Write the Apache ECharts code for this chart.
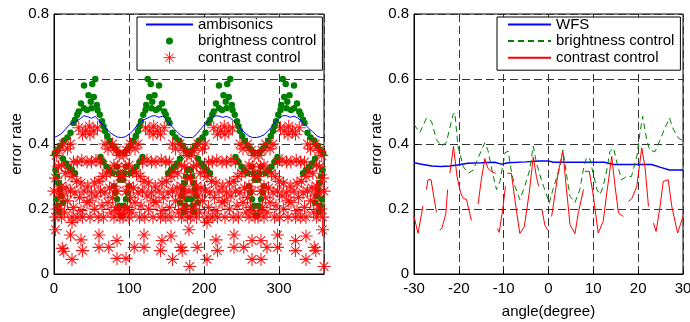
<!DOCTYPE html>
<html>
<head>
<meta charset="utf-8">
<script src="https://cdn.jsdelivr.net/npm/echarts@6/dist/echarts.min.js"></script>
<style>
  html, body { margin: 0; padding: 0; background: #fff; }
  #chart { width: 690px; height: 322px; }
</style>
</head>
<body>
<div id="chart"></div>
<script>
// left panel: ambisonics vs angle 0..360
const ambAngle = [0,5,10,15,20,25,30,35,40,45,50,55,60,65,70,75,80,85,
  90,95,100,105,110,115,120,125,130,135,140,145,150,155,160,165,170,175,
  180,185,190,195,200,205,210,215,220,225,230,235,240,245,250,255,260,265,
  270,275,280,285,290,295,300,305,310,315,320,325,330,335,340,345,350,355,360];
const ambisonics = [0.42,0.425,0.432,0.445,0.458,0.466,0.47,0.478,0.487,0.484,0.479,0.485,0.472,0.458,0.446,0.435,0.427,0.421,
  0.42,0.422,0.43,0.44,0.455,0.468,0.475,0.48,0.486,0.487,0.482,0.486,0.475,0.46,0.447,0.435,0.425,0.42,
  0.42,0.42,0.43,0.444,0.458,0.468,0.48,0.487,0.486,0.482,0.485,0.48,0.47,0.46,0.445,0.433,0.424,0.42,
  0.42,0.423,0.428,0.44,0.452,0.468,0.478,0.487,0.487,0.482,0.486,0.48,0.47,0.46,0.447,0.438,0.426,0.42,0.42];

const brightnessPoints = [
  [40,0.58],[51,0.585],[55,0.6],[46,0.55],[53,0.545],[49,0.53],[36,0.525],[57,0.52],[33,0.5],[40,0.51],[44,0.505],[50,0.51],[58,0.505],[31,0.49],[61,0.49],[28,0.475],[26,0.465],[64,0.47],[66,0.455],
  [22,0.435],[18,0.42],[13,0.41],[8,0.395],[4,0.38],[1,0.37],[68,0.44],[71,0.425],[74,0.41],[78,0.395],[82,0.385],[86,0.375],
  [12,0.355],[16,0.34],[20,0.33],[24,0.32],[28,0.31],[62,0.36],[66,0.345],[70,0.33],[74,0.32],[78,0.31],
  [2,0.32],[4,0.3],[6,0.28],[8,0.26],[10,0.24],[12,0.22],[84,0.33],[86,0.31],[88,0.29],[80,0.27],[82,0.25],[84,0.23],[87,0.21],[89,0.18],[3,0.23],[5,0.21],[7,0.19],

  [140,0.58],[129,0.585],[125,0.6],[134,0.55],[127,0.545],[131,0.53],[144,0.525],[123,0.52],[147,0.5],[140,0.51],[136,0.505],[130,0.51],[122,0.505],[149,0.49],[119,0.49],[152,0.475],[154,0.465],[116,0.47],[114,0.455],
  [158,0.435],[162,0.42],[167,0.41],[172,0.395],[176,0.38],[179,0.37],[112,0.44],[109,0.425],[106,0.41],[102,0.395],[98,0.385],[94,0.375],
  [168,0.355],[164,0.34],[160,0.33],[156,0.32],[152,0.31],[118,0.36],[114,0.345],[110,0.33],[106,0.32],[102,0.31],
  [178,0.32],[176,0.3],[174,0.28],[172,0.26],[170,0.24],[168,0.22],[96,0.33],[94,0.31],[92,0.29],[100,0.27],[98,0.25],[96,0.23],[93,0.21],[91,0.18],[177,0.23],[175,0.21],[173,0.19],

  [220,0.58],[231,0.585],[235,0.6],[226,0.55],[233,0.545],[229,0.53],[216,0.525],[237,0.52],[213,0.5],[220,0.51],[224,0.505],[230,0.51],[238,0.505],[211,0.49],[241,0.49],[208,0.475],[206,0.465],[244,0.47],[246,0.455],
  [202,0.435],[198,0.42],[193,0.41],[188,0.395],[184,0.38],[181,0.37],[248,0.44],[251,0.425],[254,0.41],[258,0.395],[262,0.385],[266,0.375],
  [192,0.355],[196,0.34],[200,0.33],[204,0.32],[208,0.31],[242,0.36],[246,0.345],[250,0.33],[254,0.32],[258,0.31],
  [182,0.32],[184,0.3],[186,0.28],[188,0.26],[190,0.24],[192,0.22],[264,0.33],[266,0.31],[268,0.29],[260,0.27],[262,0.25],[264,0.23],[267,0.21],[269,0.18],[183,0.23],[185,0.21],[187,0.19],

  [320,0.58],[309,0.585],[305,0.6],[314,0.55],[307,0.545],[311,0.53],[324,0.525],[303,0.52],[327,0.5],[320,0.51],[316,0.505],[310,0.51],[302,0.505],[329,0.49],[299,0.49],[332,0.475],[334,0.465],[296,0.47],[294,0.455],
  [338,0.435],[342,0.42],[347,0.41],[352,0.395],[356,0.38],[359,0.37],[292,0.44],[289,0.425],[286,0.41],[282,0.395],[278,0.385],[274,0.375],
  [348,0.355],[344,0.34],[340,0.33],[336,0.32],[332,0.31],[298,0.36],[294,0.345],[290,0.33],[286,0.32],[282,0.31],
  [358,0.32],[356,0.3],[354,0.28],[352,0.26],[350,0.24],[348,0.22],[276,0.33],[274,0.31],[272,0.29],[280,0.27],[278,0.25],[276,0.23],[273,0.21],[271,0.18],[357,0.23],[355,0.21],[353,0.19]
];

const contrastPoints = [
  [33,0.45],[38,0.43],[42,0.44],[47,0.455],[48,0.43],[53,0.44],[58,0.45],
  [7,0.38],[12,0.4],[18,0.385],[22,0.4],[68,0.4],[72,0.385],[78,0.4],[83,0.38],[3,0.365],[87,0.365],
  [26,0.345],[31,0.345],[37,0.35],[44,0.345],[50,0.345],[56,0.35],[62,0.345],[6,0.33],[10,0.335],[80,0.335],[85,0.33],
  [15,0.31],[20,0.315],[70,0.31],[75,0.315],[2,0.295],[24,0.3],[65,0.3],[88,0.3],
  [30,0.285],[36,0.28],[54,0.28],[60,0.285],[10,0.27],[16,0.265],[45,0.27],[74,0.265],[80,0.27],
  [0,0.255],[6,0.25],[22,0.255],[28,0.25],[40,0.255],[50,0.25],[62,0.255],[68,0.25],[84,0.255],
  [12,0.24],[34,0.235],[56,0.24],[78,0.235],[18,0.225],[44,0.22],[47,0.225],[72,0.22],
  [8,0.21],[26,0.205],[64,0.21],[82,0.205],[4,0.2],[36,0.195],[54,0.2],[86,0.195],[14,0.19],[76,0.19],
  [2,0.175],[10,0.175],[24,0.175],[31,0.175],[38,0.175],[48,0.175],[59,0.175],[66,0.175],[80,0.175],[88,0.175],

  [147,0.45],[142,0.43],[138,0.44],[133,0.455],[132,0.43],[127,0.44],[122,0.45],
  [173,0.38],[168,0.4],[162,0.385],[158,0.4],[112,0.4],[108,0.385],[102,0.4],[97,0.38],[177,0.365],[93,0.365],
  [154,0.345],[149,0.345],[143,0.35],[136,0.345],[130,0.345],[124,0.35],[118,0.345],[174,0.33],[170,0.335],[100,0.335],[95,0.33],
  [165,0.31],[160,0.315],[110,0.31],[105,0.315],[178,0.295],[156,0.3],[115,0.3],[92,0.3],
  [150,0.285],[144,0.28],[126,0.28],[120,0.285],[170,0.27],[164,0.265],[135,0.27],[106,0.265],[100,0.27],
  [180,0.255],[174,0.25],[158,0.255],[152,0.25],[140,0.255],[130,0.25],[118,0.255],[112,0.25],[96,0.255],
  [168,0.24],[146,0.235],[124,0.24],[102,0.235],[162,0.225],[136,0.22],[133,0.225],[108,0.22],
  [172,0.21],[154,0.205],[116,0.21],[98,0.205],[176,0.2],[144,0.195],[126,0.2],[94,0.195],[166,0.19],[104,0.19],
  [178,0.175],[170,0.175],[156,0.175],[149,0.175],[142,0.175],[132,0.175],[121,0.175],[114,0.175],[100,0.175],[92,0.175],

  [213,0.45],[218,0.43],[222,0.44],[227,0.455],[228,0.43],[233,0.44],[238,0.45],
  [187,0.38],[192,0.4],[198,0.385],[202,0.4],[248,0.4],[252,0.385],[258,0.4],[263,0.38],[183,0.365],[267,0.365],
  [206,0.345],[211,0.345],[217,0.35],[224,0.345],[230,0.345],[236,0.35],[242,0.345],[186,0.33],[190,0.335],[260,0.335],[265,0.33],
  [195,0.31],[200,0.315],[250,0.31],[255,0.315],[182,0.295],[204,0.3],[245,0.3],[268,0.3],
  [210,0.285],[216,0.28],[234,0.28],[240,0.285],[190,0.27],[196,0.265],[225,0.27],[254,0.265],[260,0.27],
  [186,0.25],[202,0.255],[208,0.25],[220,0.255],[230,0.25],[242,0.255],[248,0.25],[264,0.255],
  [192,0.24],[214,0.235],[236,0.24],[258,0.235],[198,0.225],[224,0.22],[227,0.225],[252,0.22],
  [188,0.21],[206,0.205],[244,0.21],[262,0.205],[184,0.2],[216,0.195],[234,0.2],[266,0.195],[194,0.19],[256,0.19],
  [182,0.175],[190,0.175],[204,0.175],[211,0.175],[218,0.175],[228,0.175],[239,0.175],[246,0.175],[260,0.175],[268,0.175],

  [327,0.45],[322,0.43],[318,0.44],[313,0.455],[312,0.43],[307,0.44],[302,0.45],
  [353,0.38],[348,0.4],[342,0.385],[338,0.4],[292,0.4],[288,0.385],[282,0.4],[277,0.38],[357,0.365],[273,0.365],
  [334,0.345],[329,0.345],[323,0.35],[316,0.345],[310,0.345],[304,0.35],[298,0.345],[354,0.33],[350,0.335],[280,0.335],[275,0.33],
  [345,0.31],[340,0.315],[290,0.31],[285,0.315],[358,0.295],[336,0.3],[295,0.3],[272,0.3],
  [330,0.285],[324,0.28],[306,0.28],[300,0.285],[350,0.27],[344,0.265],[315,0.27],[286,0.265],[280,0.27],
  [360,0.255],[354,0.25],[338,0.255],[332,0.25],[320,0.255],[310,0.25],[298,0.255],[292,0.25],[276,0.255],
  [348,0.24],[326,0.235],[304,0.24],[282,0.235],[342,0.225],[316,0.22],[313,0.225],[288,0.22],
  [352,0.21],[334,0.205],[296,0.21],[278,0.205],[356,0.2],[324,0.195],[306,0.2],[274,0.195],[346,0.19],[284,0.19],
  [358,0.175],[350,0.175],[336,0.175],[329,0.175],[322,0.175],[312,0.175],[301,0.175],[294,0.175],[280,0.175],[272,0.175],

  // sparse low values
  [2,0.136],[11,0.079],[13,0.07],[24,0.159],[22,0.12],[24,0.045],[36,0.105],[38,0.072],[60,0.12],[60,0.082],[73,0.082],[84,0.103],[84,0.048],
  [96,0.048],[107,0.082],[120,0.12],[120,0.082],[144,0.103],[142,0.072],[158,0.045],[156,0.117],[169,0.082],[171,0.072],[180,0.136],[181,0.023],
  [191,0.082],[204,0.159],[204,0.045],[216,0.105],[218,0.072],[240,0.12],[240,0.082],[253,0.082],[264,0.103],[264,0.045],
  [276,0.045],[276,0.103],[284,0.082],[298,0.12],[298,0.082],[322,0.103],[322,0.072],[336,0.045],[336,0.117],[347,0.082],[349,0.072],[358,0.136],[360,0.023]
];

// right panel: -30..30
const wfsCurve = [[-30,0.342],[-28,0.337],[-26,0.332],[-24,0.331],[-22,0.332],[-20,0.336],[-18,0.341],[-15,0.342],[-12,0.344],[-10.5,0.338],
  [-9,0.342],[-5,0.345],[-2,0.348],[0,0.348],[1,0.344],[5,0.344],[10,0.344],[12.5,0.344],[14.5,0.337],[18,0.337],[23,0.337],[25,0.328],[27,0.32],[30,0.32]];

const brightnessCurve = [[-30,0.46],[-28.7,0.435],[-27.2,0.48],[-26.1,0.47],[-25,0.414],[-23.9,0.394],[-22.8,0.404],[-21.3,0.49],[-20.9,0.497],
  [-20.2,0.394],[-19,0.33],[-17.9,0.31],[-16.8,0.32],[-15.7,0.357],[-14.2,0.404],[-13.5,0.38],[-12.3,0.3],[-11.6,0.26],[-10.8,0.286],
  [-9.7,0.373],[-9,0.378],[-8.2,0.31],[-7.5,0.27],[-6.4,0.229],[-5.3,0.27],[-4.2,0.32],[-3.4,0.394],[-2.7,0.342],[-1.6,0.29],[-0.6,0.25],
  [0.15,0.218],[1,0.26],[2.6,0.331],[3.2,0.382],[4.2,0.29],[4.8,0.239],[5.9,0.22],[7,0.26],[7.75,0.32],[8.5,0.36],[9.2,0.355],
  [10.8,0.26],[11.5,0.244],[12.2,0.27],[13,0.32],[13.7,0.377],[14.5,0.388],[15.3,0.34],[16.3,0.29],[17.4,0.3],[18.5,0.3],[19.7,0.362],
  [20.4,0.434],[21,0.485],[21.9,0.413],[22.6,0.38],[23.8,0.377],[24.9,0.413],[26,0.45],[27,0.48],[27.8,0.446],[29,0.418],[30,0.41]];

// '-' = gap in the line
const contrastCurve = [[-30,0.177],[-29.1,0.125],[-28,0.21],[-27.6,'-'],
  [-27.2,0.26],[-26.9,0.29],[-26.2,0.29],[-25,0.19],[-24.6,'-'],
  [-24.3,0.135],[-23.8,0.14],[-22.9,0.185],[-22.5,0.26],[-22.2,'-'],
  [-22,0.31],[-21.2,0.393],[-20.4,0.3],[-19.6,0.25],[-19,0.232],[-18.3,0.23],[-17.2,0.165],[-16.5,'-'],
  [-15.7,0.215],[-15,0.29],[-14.2,0.355],[-13.5,0.325],[-12.7,0.315],[-11.8,0.31],[-11.6,'-'],
  [-11.4,0.14],[-11,0.128],[-10.2,0.2],[-9.6,0.27],[-9.4,'-'],
  [-9.2,0.31],[-8.3,0.31],[-7.2,0.2],[-6.4,0.125],[-5.4,0.145],[-4.3,0.25],[-3.4,0.36],[-2.7,0.3],[-2.2,0.27],[-1.9,'-'],
  [-1.5,0.2],[-0.8,0.15],[-0.2,0.135],[0.2,'-'],
  [0.7,0.177],[2.2,0.316],[3.2,0.377],[3.8,0.29],[4.8,0.152],[5.9,0.124],[6.65,0.188],[7.8,0.26],[7.95,'-'],
  [8.1,0.316],[9.1,0.316],[9.9,0.249],[11.1,0.126],[12.2,0.162],[13,0.249],[14.1,0.362],[14.85,0.27],[15.6,0.188],[16.7,0.177],[17.2,'-'],
  [17.8,0.223],[18.6,0.232],[19.7,0.27],[20.8,0.388],[21.55,0.326],[22.3,0.208],[22.8,'-'],
  [23.4,0.157],[24,0.131],[24.8,0.2],[25.6,0.285],[26.7,0.29],[27.5,0.208],[28.8,0.126],[30,0.177]];

const FONT = "'Liberation Sans', Arial, sans-serif";
const ASTERISK = "path://M12 0L12 24M0 12L24 12M4 4L20 20M20 4L4 20";
// small dot inside a 12x12 box (the corner moves keep the box size)
const LEGEND_DOT = "path://M0 0M12 12M6 2.5A3.5 3.5 0 1 1 5.99 2.5Z";
const NO_MARK = { color: "rgba(0,0,0,0)", borderWidth: 0 };

const chart = echarts.init(document.getElementById("chart"));

function makeGrid(left, width) {
  return {
    left, top: 14, width, height: 260,
    show: true, borderColor: "#000", borderWidth: 1, backgroundColor: "#fff",
    containLabel: false, outerBoundsMode: "none",
  };
}

function makeAxisCommon() {
  return {
    axisLine: { show: true, onZero: false, lineStyle: { color: "#000", width: 1 } },
    axisTick: { show: true, inside: true, length: 4, lineStyle: { color: "#000" } },
    axisLabel: { color: "#000", fontSize: 15, fontFamily: FONT },
    splitLine: { show: true, lineStyle: { color: "#333", width: 1, type: [8, 4] } },
    nameTextStyle: { color: "#000", fontSize: 15, fontFamily: FONT },
    nameLocation: "middle",
  };
}

function xAxis(gridIndex, min, max, interval) {
  const a = makeAxisCommon();
  return {
    ...a, type: "value", gridIndex, min, max, interval,
    name: "angle(degree)", nameGap: 30,
    axisLabel: { ...a.axisLabel, margin: 7, showMaxLabel: max % interval === 0 },
  };
}

function yAxis(gridIndex) {
  const a = makeAxisCommon();
  return {
    ...a, type: "value", gridIndex, min: 0, max: 0.8, interval: 0.2,
    name: "error rate", nameGap: 29,
    axisLabel: { ...a.axisLabel, margin: 5 },
  };
}

function makeLegend(left, itemWidth, padLeft, data) {
  return {
    left, top: 17, orient: "vertical",
    itemWidth, itemHeight: 12, itemGap: 1.6,
    padding: [0, 6, 5, padLeft],
    borderColor: "#000", borderWidth: 1, backgroundColor: "#fff",
    selectedMode: false,
    textStyle: { color: "#000", fontSize: 15, fontFamily: FONT, lineHeight: 15 },
    formatter: (name) => name.trim(),
    data,
  };
}

const option = {
  animation: false,
  backgroundColor: "#fff",
  grid: [makeGrid(54, 270), makeGrid(414, 269)],
  xAxis: [xAxis(0, 0, 360, 100), xAxis(1, -30, 30, 10)],
  yAxis: [yAxis(0), yAxis(1)],
  legend: [
    makeLegend(137, 47, 8, [
      { name: "ambisonics", itemStyle: NO_MARK },
      { name: "brightness control", icon: LEGEND_DOT },
      { name: "contrast control", itemStyle: { borderWidth: 1, borderColor: "#ff0000" } },
    ]),
    makeLegend(497, 43, 10, [
      { name: "WFS", itemStyle: NO_MARK },
      { name: "brightness control ", itemStyle: NO_MARK },
      { name: "contrast control ", itemStyle: NO_MARK },
    ]),
  ],
  series: [
    {
      name: "ambisonics", type: "line", xAxisIndex: 0, yAxisIndex: 0,
      data: ambAngle.map((a, i) => [a, ambisonics[i]]),
      symbol: "none", lineStyle: { color: "#0000ff", width: 1 }, itemStyle: { color: "#0000ff" },
    },
    {
      name: "brightness control", type: "scatter", xAxisIndex: 0, yAxisIndex: 0,
      data: brightnessPoints, symbol: "circle", symbolSize: 6.5,
      itemStyle: { color: "#008000", opacity: 1 },
    },
    {
      name: "contrast control", type: "scatter", xAxisIndex: 0, yAxisIndex: 0,
      data: contrastPoints, symbol: ASTERISK, symbolSize: 13,
      itemStyle: { color: "rgba(0,0,0,0)", borderColor: "#ff0000", borderWidth: 1.1, opacity: 0.9 },
    },
    {
      name: "WFS", type: "line", xAxisIndex: 1, yAxisIndex: 1,
      data: wfsCurve, symbol: "none",
      lineStyle: { color: "#0000ff", width: 1.5 }, itemStyle: { color: "#0000ff" },
    },
    {
      name: "brightness control ", type: "line", xAxisIndex: 1, yAxisIndex: 1,
      data: brightnessCurve, symbol: "none",
      lineStyle: { color: "#008000", width: 1, type: [6, 4] }, itemStyle: { color: "#008000" },
    },
    {
      name: "contrast control ", type: "line", xAxisIndex: 1, yAxisIndex: 1,
      data: contrastCurve, symbol: "none", connectNulls: false,
      lineStyle: { color: "#ff0000", width: 1 }, itemStyle: { color: "#ff0000" },
    },
  ],
};

chart.setOption(option);
</script>
</body>
</html>
